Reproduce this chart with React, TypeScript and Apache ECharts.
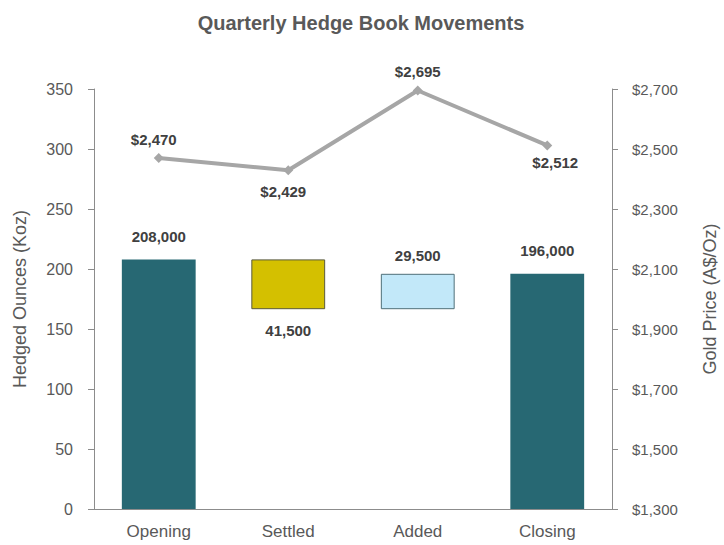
import React, { useEffect, useRef } from "react";
import * as echarts from "echarts";

const categories = ["Opening", "Settled", "Added", "Closing"];
const barBase = [0, 166.5, 166.5, 0];
const barValues = [208, 41.5, 29.5, 196];
const barLabels = ["208,000", "41,500", "29,500", "196,000"];
const barLabelPos = ["top", "bottom", "top", "top"];
const goldPrice = [2470, 2429, 2695, 2512];
const goldLabelPos = ["top", "bottom", "top", "bottom"];
const leftTicks = [0, 50, 100, 150, 200, 250, 300, 350];
const rightTicks = [1300, 1500, 1700, 1900, 2100, 2300, 2500, 2700];

const FONT = "'Liberation Sans', Arial, sans-serif";

const barStyles = [
  { color: "#276873" },
  { color: "#D4C000", borderColor: "#5a5a3a", borderWidth: 1 },
  { color: "#C2E8F9", borderColor: "#4f6f78", borderWidth: 1 },
  { color: "#276873" },
];
const barLabelDist = [15, 14, 11, 16];
const goldLabelDist = [6, 9, 7, 5];
const goldLabelDx = [-5, -5, 0, 8];

export default function App() {
  const ref = useRef<HTMLDivElement>(null);
  useEffect(() => {
    const chart = echarts.init(ref.current!, null, { renderer: "svg" });
    const fmtMoney = (v: number) => "$" + v.toLocaleString("en-US");
    chart.setOption({
      animation: false,
      textStyle: { fontFamily: FONT },
      title: {
        text: "Quarterly Hedge Book Movements",
        left: 356,
        textAlign: "center",
        top: 8,
        textStyle: { fontFamily: FONT, fontSize: 20, fontWeight: "bold", color: "#595959" },
      },
      grid: {
        left: 94,
        right: 112,
        top: 89,
        bottom: 36,
        containLabel: false,
        outerBoundsMode: "none",
      },
      xAxis: {
        type: "category",
        data: categories,
        axisLine: { lineStyle: { color: "#8c8c8c" } },
        axisTick: { show: false },
        axisLabel: { color: "#595959", fontSize: 17, fontFamily: FONT, margin: 14 },
      },
      yAxis: [
        {
          type: "value",
          min: leftTicks[0],
          max: leftTicks[leftTicks.length - 1],
          interval: 50,
          name: "Hedged Ounces (Koz)",
          nameLocation: "middle",
          nameGap: 65,
          nameTextStyle: { color: "#595959", fontSize: 18, fontFamily: FONT },
          axisLine: { show: true, lineStyle: { color: "#8c8c8c" } },
          axisTick: { show: true, length: 6, lineStyle: { color: "#8c8c8c" } },
          axisLabel: { color: "#595959", fontSize: 16, fontFamily: FONT, margin: 21 },
          splitLine: { show: false },
        },
        {
          type: "value",
          min: rightTicks[0],
          max: rightTicks[rightTicks.length - 1],
          interval: 200,
          name: "Gold Price (A$/Oz)",
          nameLocation: "middle",
          nameGap: 89,
          nameTextStyle: { color: "#595959", fontSize: 18, fontFamily: FONT },
          axisLine: { show: true, lineStyle: { color: "#8c8c8c" } },
          axisTick: { show: true, length: 6, lineStyle: { color: "#8c8c8c" } },
          axisLabel: {
            color: "#595959",
            fontSize: 15,
            fontFamily: FONT,
            margin: 20,
            formatter: (v: number) => fmtMoney(v),
          },
          splitLine: { show: false },
        },
      ],
      series: [
        {
          type: "bar",
          stack: "w",
          data: barBase,
          itemStyle: { color: "transparent" },
          silent: true,
          barWidth: "57%",
        },
        {
          type: "bar",
          stack: "w",
          barWidth: "57%",
          data: barValues.map((v, i) => ({
            value: v,
            itemStyle: barStyles[i],
            label: {
              show: true,
              position: barLabelPos[i],
              distance: barLabelDist[i],
              formatter: () => barLabels[i],
              color: "#404040",
              fontWeight: "bold",
              fontSize: 15,
              fontFamily: FONT,
            },
          })),
        },
        {
          type: "line",
          yAxisIndex: 1,
          data: goldPrice.map((v, i) => ({
            value: v,
            label: {
              show: true,
              position: goldLabelPos[i],
              distance: goldLabelDist[i],
              offset: [goldLabelDx[i], 0],
              formatter: () => fmtMoney(v),
              color: "#404040",
              fontWeight: "bold",
              fontSize: 15,
              fontFamily: FONT,
            },
          })),
          symbol: "diamond",
          symbolSize: 10,
          lineStyle: { color: "#A6A6A6", width: 4 },
          itemStyle: { color: "#A6A6A6" },
        },
      ],
    });
    return () => chart.dispose();
  }, []);
  return (
    <div
      ref={ref}
      style={{ position: "absolute", left: 0, top: 0, width: 724, height: 545 }}
    />
  );
}
